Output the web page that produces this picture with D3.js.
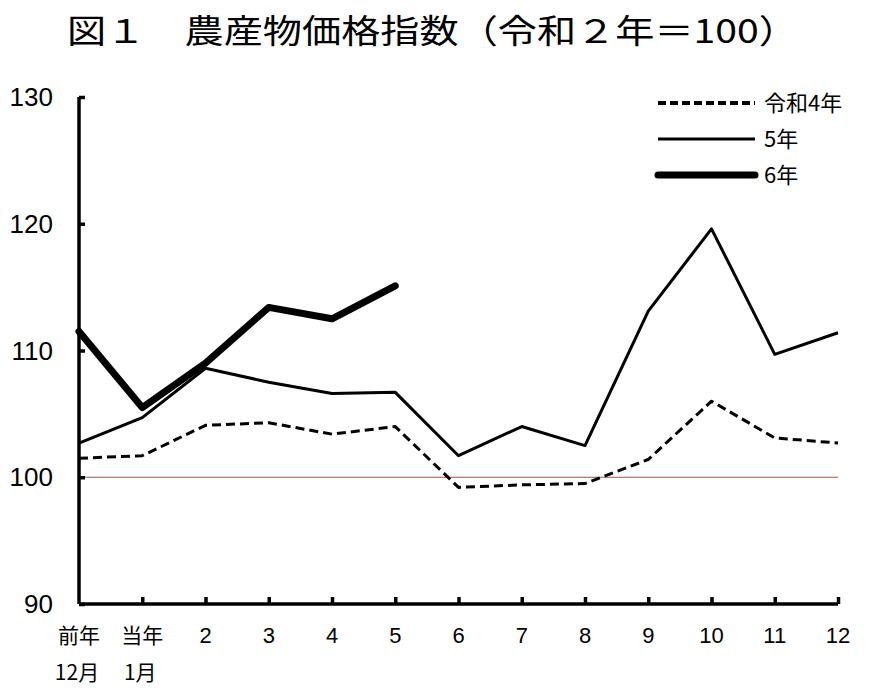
<!DOCTYPE html>
<html lang="ja">
<head>
<meta charset="UTF-8">
<title>図1 農産物価格指数</title>
<script src="https://d3js.org/d3.v7.min.js"></script>
<style>
  body { margin: 0; background: #fff; }
  svg { display: block; }
  .jp { font-family: "Noto Sans CJK JP", sans-serif; }
  .num { font-family: "Liberation Sans Narrow", "Liberation Sans", Arial, sans-serif; }
</style>
</head>
<body>
<svg id="chart" width="877" height="693"></svg>
<script>
// categories (x axis)
const months = ["前年12月", "当年1月", "2", "3", "4", "5", "6", "7", "8", "9", "10", "11", "12"];
const xLabelTop = ["前年", "当年", "2", "3", "4", "5", "6", "7", "8", "9", "10", "11", "12"];
const xLabelBottom = ["12月", "1月", "", "", "", "", "", "", "", "", "", "", ""];

// series values (令和2年=100)
const r4 = [101.5, 101.7, 104.1, 104.3, 103.4, 104.0, 99.2, 99.4, 99.5, 101.4, 106.0, 103.1, 102.7];
const r5 = [102.7, 104.7, 108.6, 107.5, 106.6, 106.7, 101.7, 104.0, 102.5, 113.1, 119.6, 109.7, 111.4];
const r6 = [111.5, 105.5, 109.0, 113.4, 112.5, 115.1];

const yTicks = [90, 100, 110, 120, 130];

const series = [
  { name: "令和4年", values: r4, width: 3, dash: "9,5" },
  { name: "5年", values: r5, width: 3, dash: null },
  { name: "6年", values: r6, width: 7, dash: null }
];

const svg = d3.select("#chart");
const m = { left: 79, right: 39, top: 97, bottom: 89 };
const W = 877, H = 693;

const x = d3.scalePoint().domain(d3.range(months.length)).range([m.left, W - m.right]);
const y = d3.scaleLinear().domain([90, 130]).range([H - m.bottom, m.top]);

// title
svg.append("text")
  .attr("class", "jp")
  .attr("x", 67).attr("y", 43)
  .attr("textLength", 731)
  .attr("lengthAdjust", "spacingAndGlyphs")
  .style("font-size", "33px")
  .text("図１　農産物価格指数（令和２年＝100）");

// reference line at 100
svg.append("line")
  .attr("x1", x(0)).attr("x2", x(months.length - 1))
  .attr("y1", y(100)).attr("y2", y(100))
  .attr("stroke", "#9a5555").attr("stroke-width", 1);

// y axis
const yAxis = svg.append("g")
  .attr("transform", `translate(${x(0)},0)`)
  .call(d3.axisRight(y).tickValues(yTicks).tickSize(6).tickFormat(""));
yAxis.select(".domain").attr("d", `M0,${y(90)}V${y(130)}`).attr("stroke-width", 3.5);
yAxis.selectAll(".tick line").attr("stroke-width", 3.5);

svg.selectAll(".ylab")
  .data(yTicks)
  .join("text")
  .attr("class", "ylab num")
  .attr("x", 53).attr("y", d => y(d) + 9)
  .attr("text-anchor", "end")
  .style("font-size", "26px")
  .text(d => d);

// x axis
const xAxis = svg.append("g")
  .attr("transform", `translate(0,${y(90)})`)
  .call(d3.axisTop(x).tickSize(7).tickFormat(""));
xAxis.select(".domain").attr("d", `M${x(0)},0H${x(months.length - 1)}`).attr("stroke-width", 3.5);
xAxis.selectAll(".tick line").attr("stroke-width", 3.5);
xAxis.selectAll(".tick").filter(d => d === 0).remove();

const xl = svg.append("g");
xl.selectAll(".xt")
  .data(xLabelTop)
  .join("text")
  .attr("class", (d, i) => i < 2 ? "jp" : "num")
  .attr("x", (d, i) => x(i))
  .attr("y", 643)
  .attr("text-anchor", "middle")
  .style("font-size", (d, i) => i < 2 ? "21px" : "22px")
  .text(d => d);
xl.selectAll(".xb")
  .data(xLabelBottom)
  .join("text")
  .attr("class", "jp")
  .attr("x", (d, i) => x(i) - 2)
  .attr("y", 680)
  .attr("text-anchor", "middle")
  .style("font-size", "21px")
  .text(d => d);

// lines
const line = d3.line().x((d, i) => x(i)).y(d => y(d));
svg.append("g").selectAll("path")
  .data(series)
  .join("path")
  .attr("d", d => line(d.values))
  .attr("fill", "none")
  .attr("stroke", "#000")
  .attr("stroke-width", d => d.width)
  .attr("stroke-dasharray", d => d.dash)
  .attr("stroke-linejoin", "round")
  .attr("stroke-linecap", d => d.width > 4 ? "round" : "butt");

// legend
const lg = svg.append("g").attr("transform", "translate(658,103)");
const items = lg.selectAll("g").data(series).join("g")
  .attr("transform", (d, i) => `translate(0,${i * 36})`);
items.append("line")
  .attr("x1", 0).attr("x2", 97)
  .attr("stroke", "#000")
  .attr("stroke-width", d => d.dash ? 4 : d.width)
  .attr("stroke-dasharray", d => d.dash ? "8,4" : null)
  .attr("stroke-linecap", d => d.width > 4 ? "round" : "butt");
items.append("text")
  .attr("class", "jp")
  .attr("x", 106).attr("y", 8)
  .style("font-size", "22px")
  .text(d => d.name);
</script>
</body>
</html>
